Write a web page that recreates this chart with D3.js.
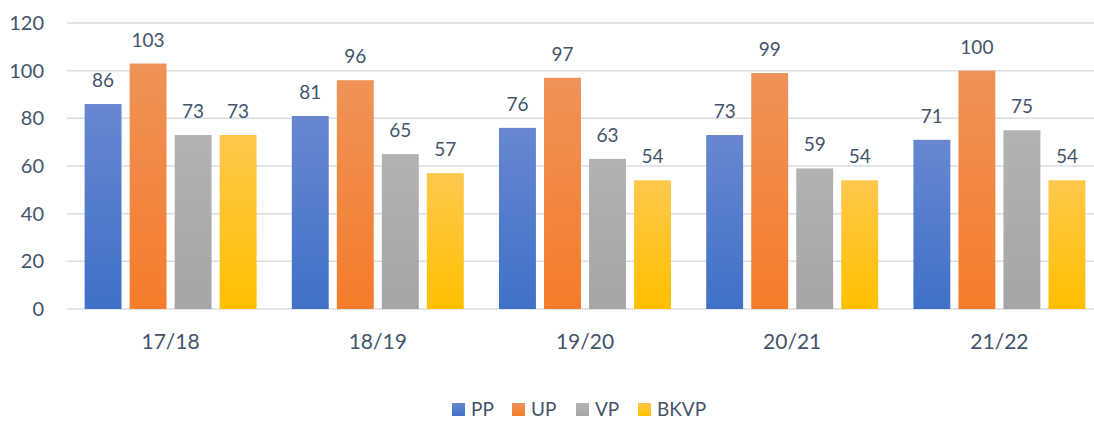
<!DOCTYPE html>
<html>
<head>
<meta charset="utf-8">
<script src="https://cdn.jsdelivr.net/npm/d3@7"></script>
<style>
  body { margin: 0; background: #fff; }
  text { font-family: Lato, "Open Sans", sans-serif; fill: #44546a; }
</style>
</head>
<body>
<div id="chart"></div>
<script>
const categories = ['17/18', '18/19', '19/20', '20/21', '21/22'];
const seriesNames = ['PP', 'UP', 'VP', 'BKVP'];
const PP = [86, 81, 76, 73, 71];
const UP = [103, 96, 97, 99, 100];
const VP = [73, 65, 63, 59, 75];
const BKVP = [73, 57, 54, 54, 54];
const yTicks = [0, 20, 40, 60, 80, 100, 120];

const colors = {
    PP: ['#6787d0', '#4070c8'],
    UP: ['#f09258', '#f57c2a'],
    VP: ['#b2b2b2', '#a5a5a5'],
    BKVP: ['#ffc84c', '#ffc000']
};

document.addEventListener('DOMContentLoaded', function () {
    const w = 1094, h = 421;
    const left = 67, right = 1103, top = 23, bottom = 309;

    const svg = d3.select('#chart').append('svg')
        .attr('width', w)
        .attr('height', h);

    // gradients, lighter at the top like the office chart
    const defs = svg.append('defs');
    seriesNames.forEach(s => {
        const g = defs.append('linearGradient')
            .attr('id', 'grad-' + s)
            .attr('x1', 0).attr('y1', 0).attr('x2', 0).attr('y2', 1);
        g.append('stop').attr('offset', '0%').attr('stop-color', colors[s][0]);
        g.append('stop').attr('offset', '100%').attr('stop-color', colors[s][1]);
    });

    const rows = categories.map((c, i) => ({
        cat: c,
        values: [PP[i], UP[i], VP[i], BKVP[i]]
    }));

    const x0 = d3.scaleBand()
        .domain(categories)
        .range([left, right])
        .paddingInner(0.17)
        .paddingOuter(0.085);

    const x1 = d3.scaleBand()
        .domain(seriesNames)
        .range([0, x0.bandwidth()])
        .paddingInner(0.18);

    const y = d3.scaleLinear()
        .domain([0, 120])
        .range([bottom, top]);

    // gridlines
    svg.append('g').selectAll('line')
        .data(yTicks)
        .enter()
        .append('line')
        .attr('x1', left)
        .attr('x2', w)
        .attr('y1', d => y(d))
        .attr('y2', d => y(d))
        .attr('stroke', '#d9dde3')
        .attr('stroke-width', 1.5);

    // y tick labels
    svg.append('g').selectAll('text')
        .data(yTicks)
        .enter()
        .append('text')
        .attr('x', 44)
        .attr('y', d => y(d))
        .attr('dy', '0.35em')
        .attr('text-anchor', 'end')
        .style('font-size', '20px')
        .text(d => d);

    // bars
    const groups = svg.append('g').selectAll('g')
        .data(rows)
        .enter()
        .append('g')
        .attr('transform', d => 'translate(' + x0(d.cat) + ',0)');

    const cells = d => d.values.map((v, j) => ({ s: seriesNames[j], v: v }));

    groups.selectAll('rect')
        .data(cells)
        .enter()
        .append('rect')
        .attr('x', d => x1(d.s))
        .attr('y', d => y(d.v))
        .attr('width', x1.bandwidth())
        .attr('height', d => bottom - y(d.v))
        .attr('fill', d => 'url(#grad-' + d.s + ')');

    groups.selectAll('text')
        .data(cells)
        .enter()
        .append('text')
        .attr('x', d => x1(d.s) + x1.bandwidth() / 2)
        .attr('y', d => y(d.v) - 17)
        .attr('text-anchor', 'middle')
        .style('font-size', '19px')
        .text(d => d.v);

    // category labels
    svg.append('g').selectAll('text')
        .data(categories)
        .enter()
        .append('text')
        .attr('x', d => x0(d) + x0.bandwidth() / 2)
        .attr('y', 349)
        .attr('text-anchor', 'middle')
        .style('font-size', '21px')
        .text(d => d);

    // legend
    const legendX = [452, 512, 576, 638];
    const legend = svg.append('g').selectAll('g')
        .data(seriesNames)
        .enter()
        .append('g')
        .attr('transform', (d, i) => 'translate(' + legendX[i] + ',403)');
    legend.append('rect')
        .attr('width', 13)
        .attr('height', 13)
        .attr('fill', d => 'url(#grad-' + d + ')');
    legend.append('text')
        .attr('x', 19)
        .attr('y', 13)
        .style('font-size', '19px')
        .text(d => d);
});
</script>
</body>
</html>
